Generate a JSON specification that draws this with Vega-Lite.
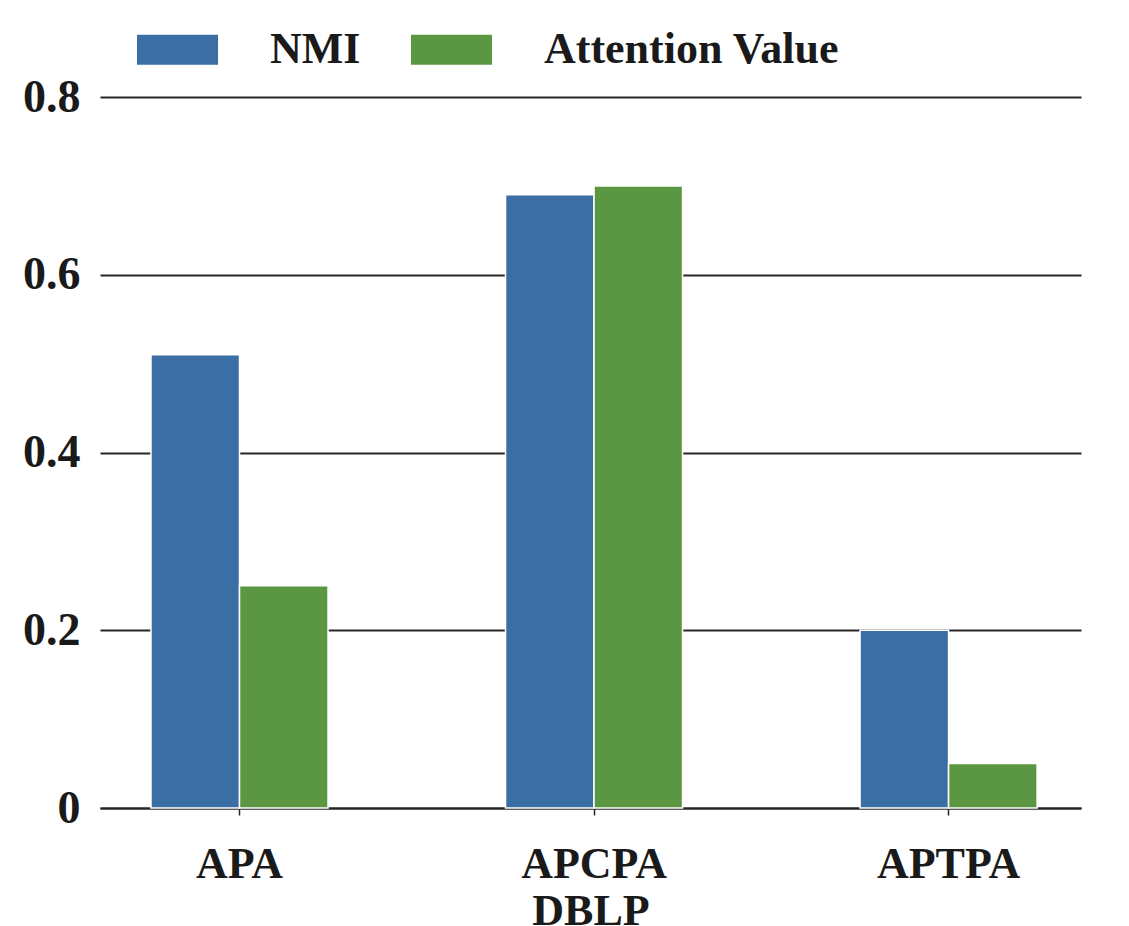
{
  "$schema": "https://vega.github.io/schema/vega-lite/v6.json",
  "width": 981,
  "height": 711,
  "autosize": {"type": "none"},
  "padding": {"left": 100, "top": 97, "right": 48, "bottom": 118},
  "background": "white",
  "data": {
    "values": [
      {"path": "APA", "metric": "NMI", "value": 0.51},
      {"path": "APA", "metric": "Attention Value", "value": 0.25},
      {"path": "APCPA", "metric": "NMI", "value": 0.69},
      {"path": "APCPA", "metric": "Attention Value", "value": 0.70},
      {"path": "APTPA", "metric": "NMI", "value": 0.20},
      {"path": "APTPA", "metric": "Attention Value", "value": 0.05}
    ]
  },
  "mark": {"type": "bar", "stroke": "white", "strokeWidth": 1.5},
  "encoding": {
    "x": {
      "field": "path",
      "type": "nominal",
      "sort": ["APA", "APCPA", "APTPA"],
      "scale": {"paddingInner": 0.253, "paddingOuter": 0.01, "align": 1},
      "axis": {
        "title": "DBLP",
        "labelAngle": 0,
        "domain": true,
        "domainColor": "#262626",
        "domainWidth": 2,
        "ticks": true,
        "tickColor": "#262626",
        "tickSize": 7,
        "tickWidth": 1.5,
        "grid": false,
        "labelFont": "Liberation Serif",
        "labelFontSize": 44,
        "labelFontWeight": "bold",
        "labelColor": "#1a1a1a",
        "labelPadding": 27,
        "titleFont": "Liberation Serif",
        "titleFontSize": 44,
        "titleFontWeight": "bold",
        "titleColor": "#1a1a1a",
        "titlePadding": 3
      }
    },
    "xOffset": {
      "field": "metric",
      "type": "nominal",
      "sort": ["NMI", "Attention Value"],
      "scale": {"paddingInner": 0, "paddingOuter": 0.496}
    },
    "y": {
      "field": "value",
      "type": "quantitative",
      "scale": {"domain": [0, 0.8], "nice": false},
      "axis": {
        "title": null,
        "values": [0, 0.2, 0.4, 0.6, 0.8],
        "labelExpr": "datum.value == 0 ? '0' : format(datum.value, '.1f')",
        "domain": false,
        "ticks": false,
        "grid": true,
        "gridColor": "#262626",
        "gridWidth": 2,
        "labelFont": "Liberation Serif",
        "labelFontSize": 46,
        "labelFontWeight": "bold",
        "labelColor": "#1a1a1a",
        "labelPadding": 20
      }
    },
    "color": {
      "field": "metric",
      "type": "nominal",
      "sort": ["NMI", "Attention Value"],
      "scale": {"domain": ["NMI", "Attention Value"], "range": ["#3a6ea5", "#5b9642"]},
      "legend": {
        "orient": "none",
        "legendX": 37,
        "legendY": -88,
        "direction": "horizontal",
        "title": null,
        "symbolType": "M-1,-0.37H1V0.37H-1Z",
        "symbolSize": 6561,
        "symbolStrokeWidth": 0,
        "labelFont": "Liberation Serif",
        "labelFontSize": 44,
        "labelFontWeight": "bold",
        "labelColor": "#1a1a1a",
        "labelLimit": 0,
        "labelOffset": 52,
        "columnPadding": 50
      }
    }
  },
  "config": {"view": {"stroke": null}}
}
